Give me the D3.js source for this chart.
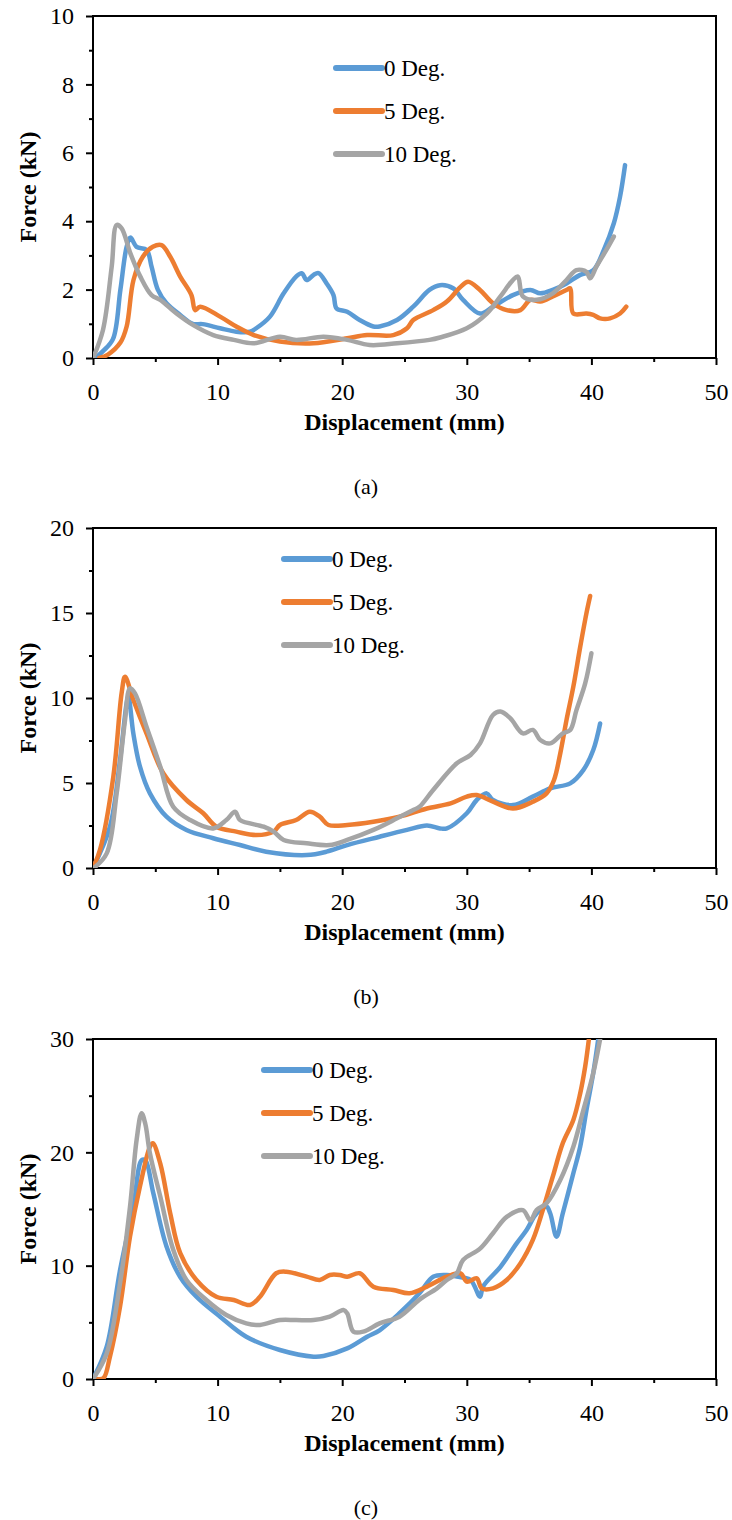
<!DOCTYPE html>
<html>
<head>
<meta charset="utf-8">
<script src="https://cdn.jsdelivr.net/npm/d3@7"></script>
<style>
  body { margin: 0; background: #fff; }
  svg { display: block; font-family: "Liberation Serif", "Times New Roman", serif; }
  .axis path, .axis line { stroke: #000; stroke-width: 2; }
  .axis text { font-size: 24px; fill: #000; font-family: "Liberation Serif", "Times New Roman", serif; }
  .curve { fill: none; stroke-width: 4.5; stroke-linejoin: round; stroke-linecap: round; }
</style>
</head>
<body>
<svg id="chart" width="732" height="1520"></svg>
<script>
// series names and colours (Excel defaults)
var seriesNames = ["0 Deg.", "5 Deg.", "10 Deg."];
var seriesColors = ["#5B9BD5", "#ED7D31", "#A5A5A5"];

var xTicks = [0, 10, 20, 30, 40, 50];
var xMinorTicks = [5, 15, 25, 35, 45];

var yTicksA = [0, 2, 4, 6, 8, 10];
var yMinorA = [1, 3, 5, 7, 9];
var yTicksB = [0, 5, 10, 15, 20];
var yMinorB = [2.5, 7.5, 12.5, 17.5];
var yTicksC = [0, 10, 20, 30];
var yMinorC = [5, 15, 25];

// panel (a)  [displacement mm, force kN]
var aDeg0 = [[0.2,0],[0.8,0.2],[1.6,0.55],[2.2,2.0],[2.7,3.25],[3.0,3.52],[3.5,3.25],[4.3,3.16],[4.7,2.67],[5.2,2.0],[5.9,1.6],[7.0,1.26],[8.0,1.0],[8.8,0.99],[10.2,0.87],[11.5,0.77],[12.6,0.77],[13.1,0.87],[14.2,1.21],[15.3,1.89],[16.3,2.38],[16.75,2.48],[17.15,2.28],[17.7,2.43],[18.1,2.48],[18.75,2.18],[19.3,1.84],[19.55,1.45],[20.4,1.35],[21.4,1.11],[22.5,0.92],[23.0,0.92],[24.4,1.11],[25.7,1.5],[27.0,1.99],[27.85,2.13],[28.9,2.04],[29.7,1.7],[31.06,1.3],[32.1,1.5],[33.7,1.84],[35.1,1.99],[35.9,1.89],[36.9,1.99],[38.0,2.18],[39.1,2.43],[40.15,2.57],[41.0,3.16],[41.8,3.94],[42.3,4.72],[42.7,5.64]];
var aDeg5 = [[0.5,0],[1.2,0.1],[2.2,0.45],[2.7,0.92],[3.25,2.28],[4.0,2.96],[4.8,3.25],[5.5,3.3],[6.2,2.96],[7.0,2.38],[7.9,1.84],[8.2,1.4],[8.6,1.5],[10.2,1.21],[11.5,0.92],[12.9,0.67],[15.0,0.48],[17.7,0.43],[20.4,0.58],[22.0,0.67],[24.1,0.67],[25.2,0.87],[25.7,1.11],[27.3,1.4],[28.4,1.65],[29.5,2.08],[30.1,2.23],[31.06,1.99],[32.1,1.6],[33.2,1.4],[34.3,1.4],[35.1,1.7],[35.9,1.65],[36.9,1.8],[38.0,1.99],[38.3,2.04],[38.55,1.3],[39.6,1.3],[40.15,1.26],[40.7,1.16],[41.5,1.16],[42.3,1.3],[42.8,1.5]];
var aDeg10 = [[0,0],[0.8,0.82],[1.5,2.67],[1.9,3.89],[2.3,3.79],[3.0,3.06],[3.8,2.38],[4.7,1.84],[5.4,1.7],[6.7,1.3],[8.05,0.96],[9.65,0.67],[11.3,0.53],[12.9,0.43],[15.0,0.62],[16.3,0.53],[18.5,0.62],[20.4,0.53],[22.2,0.38],[24.4,0.43],[27.0,0.53],[27.85,0.6],[30.0,0.87],[31.6,1.3],[32.7,1.8],[33.7,2.28],[34.1,2.38],[34.5,1.8],[35.6,1.7],[36.9,1.89],[38.0,2.28],[38.8,2.57],[39.6,2.52],[39.9,2.33],[40.4,2.67],[41.2,3.16],[41.8,3.55]];

// panel (b)
var bDeg0 = [[0,0],[1.36,2.43],[2.17,6.35],[2.7,9.7],[2.84,10.08],[3.24,7.9],[3.77,5.96],[4.57,4.39],[5.9,3.02],[7.5,2.24],[9.65,1.75],[11.8,1.35],[13.9,0.96],[17.15,0.76],[18.75,0.96],[20.4,1.35],[23.0,1.84],[25.2,2.24],[26.8,2.5],[27.85,2.33],[28.4,2.33],[30.0,3.22],[30.8,4.0],[31.6,4.39],[32.1,4.0],[33.7,3.7],[35.3,4.2],[36.7,4.69],[38.3,4.98],[39.35,5.76],[40.15,6.94],[40.7,8.5]];
var bDeg5 = [[0,0],[0.56,1.06],[1.63,5.37],[2.3,10.3],[2.57,11.25],[3.24,9.88],[4.3,7.9],[5.64,5.57],[7.5,4.0],[8.85,3.22],[9.9,2.43],[11.5,2.14],[13.1,1.94],[14.5,2.14],[15.0,2.53],[16.3,2.82],[17.4,3.31],[18.2,3.02],[18.9,2.53],[20.4,2.53],[22.5,2.72],[24.6,3.02],[26.8,3.5],[28.7,3.8],[30.0,4.2],[30.8,4.29],[32.1,3.9],[33.7,3.5],[35.3,3.9],[36.4,4.39],[37.0,5.18],[37.5,6.74],[38.0,8.7],[38.55,10.67],[39.1,13.0],[39.6,14.98],[39.9,16.0]];
var bDeg10 = [[0.06,0],[1.1,0.86],[1.9,4.39],[2.57,8.7],[2.97,10.57],[3.37,10.27],[4.3,8.3],[5.4,5.96],[6.44,3.6],[7.8,2.82],[9.65,2.33],[10.7,2.82],[11.4,3.31],[11.8,2.82],[13.7,2.43],[14.5,2.14],[15.3,1.65],[17.15,1.45],[19.0,1.35],[20.4,1.65],[22.5,2.24],[24.4,2.92],[25.7,3.41],[26.2,3.6],[27.3,4.59],[29.2,6.16],[30.3,6.65],[31.06,7.33],[32.1,9.0],[32.7,9.2],[33.5,8.8],[34.5,7.92],[35.3,8.12],[35.9,7.53],[36.7,7.33],[37.7,7.92],[38.3,8.12],[38.8,9.29],[39.5,10.86],[40.0,12.63]];

// panel (c)
var cDeg0 = [[0,0],[1.1,2.85],[2.17,9.6],[3.24,15.2],[3.9,19.3],[4.2,19.3],[4.84,16.4],[5.9,11.7],[7.0,9.0],[8.3,7.26],[10.2,5.5],[12.3,3.73],[15.0,2.56],[17.7,1.97],[18.5,2.03],[20.4,2.7],[22.0,3.73],[23.0,4.3],[24.6,5.8],[26.2,7.56],[27.3,9.03],[28.4,9.18],[29.2,9.03],[30.3,8.74],[31.06,7.26],[31.3,8.15],[32.7,9.9],[34.0,11.97],[34.8,13.15],[35.6,14.6],[36.4,15.2],[36.7,14.6],[37.2,12.56],[37.7,14.6],[38.55,18.15],[39.1,20.5],[39.6,23.7],[40.15,27.0],[40.55,30]];
var cDeg5 = [[0.3,0],[0.83,0.06],[1.36,1.97],[2.17,6.38],[2.97,12.56],[3.77,17.0],[4.57,20.5],[4.8,20.8],[5.4,19.0],[6.2,14.6],[7.0,11.1],[8.3,8.74],[9.9,7.26],[11.3,6.97],[12.6,6.53],[13.4,7.26],[14.7,9.33],[15.5,9.47],[17.15,9.03],[18.2,8.74],[19.0,9.18],[19.8,9.18],[20.4,9.03],[21.4,9.33],[22.5,8.15],[24.1,7.86],[25.4,7.56],[26.8,8.15],[28.4,9.03],[29.5,9.33],[30.0,8.59],[30.8,8.88],[31.2,8.0],[32.1,8.0],[33.2,8.74],[34.3,10.2],[35.3,12.27],[36.1,14.9],[36.9,17.85],[37.7,20.8],[38.55,22.86],[39.1,25.2],[39.5,27.56],[39.8,30]];
var cDeg10 = [[0,0],[1.1,2.26],[2.17,8.45],[2.97,15.2],[3.5,21.1],[3.9,23.45],[4.2,22.5],[4.57,19.9],[5.4,16.1],[6.44,11.4],[7.5,8.74],[9.1,6.97],[10.7,5.65],[12.3,4.91],[13.4,4.77],[15.0,5.2],[16.3,5.2],[17.7,5.2],[19.0,5.5],[20.1,6.09],[20.4,5.8],[20.9,4.18],[21.7,4.18],[23.0,4.91],[24.6,5.5],[26.2,7.0],[27.6,8.0],[28.4,8.74],[29.2,9.33],[29.7,10.5],[31.06,11.5],[32.1,12.86],[33.2,14.3],[34.5,14.9],[35.1,14.0],[35.6,14.9],[36.4,15.5],[37.5,17.56],[38.55,20.5],[39.35,23.7],[40.15,27.0],[40.7,30]];

var LEFT = 93, RIGHT = 716;

var panels = [
  { label: "(a)", top: 16,   bottom: 358,  yMax: 10, yTicks: yTicksA, yMinor: yMinorA, series: [aDeg0, aDeg5, aDeg10], legendX: 336, legendY: 68 },
  { label: "(b)", top: 528,  bottom: 868,  yMax: 20, yTicks: yTicksB, yMinor: yMinorB, series: [bDeg0, bDeg5, bDeg10], legendX: 284, legendY: 559 },
  { label: "(c)", top: 1039, bottom: 1379, yMax: 30, yTicks: yTicksC, yMinor: yMinorC, series: [cDeg0, cDeg5, cDeg10], legendX: 264, legendY: 1070 }
];

var svg = d3.select("#chart");
svg.append("rect").attr("width", 732).attr("height", 1520).attr("fill", "#fff");

var x = d3.scaleLinear().domain([0, 50]).range([LEFT, RIGHT]);

panels.forEach(function (p, pi) {
  var y = d3.scaleLinear().domain([0, p.yMax]).range([p.bottom, p.top]);
  var g = svg.append("g");

  var clipId = "clip" + pi;
  svg.append("clipPath").attr("id", clipId)
    .append("rect").attr("x", LEFT).attr("y", p.top).attr("width", RIGHT - LEFT).attr("height", p.bottom - p.top);

  // minor ticks
  g.append("g").attr("class", "axis").attr("transform", "translate(0," + p.bottom + ")")
    .call(d3.axisBottom(x).tickValues(xMinorTicks).tickSize(4).tickFormat(""))
    .select(".domain").remove();
  g.append("g").attr("class", "axis").attr("transform", "translate(" + LEFT + ",0)")
    .call(d3.axisLeft(y).tickValues(p.yMinor).tickSize(4).tickFormat(""))
    .select(".domain").remove();

  // major ticks + labels
  var xa = g.append("g").attr("class", "axis").attr("transform", "translate(0," + p.bottom + ")")
    .call(d3.axisBottom(x).tickValues(xTicks).tickSize(7).tickSizeOuter(0).tickPadding(18));
  xa.select(".domain").remove();
  var ya = g.append("g").attr("class", "axis").attr("transform", "translate(" + LEFT + ",0)")
    .call(d3.axisLeft(y).tickValues(p.yTicks).tickSize(7).tickSizeOuter(0).tickPadding(12));
  ya.select(".domain").remove();

  // plot frame
  g.append("rect").attr("x", LEFT).attr("y", p.top).attr("width", RIGHT - LEFT).attr("height", p.bottom - p.top)
    .attr("fill", "none").attr("stroke", "#000").attr("stroke-width", 2);

  // curves
  var line = d3.line().curve(d3.curveCatmullRom.alpha(0.5))
    .x(function (d) { return x(d[0]); }).y(function (d) { return y(d[1]); });
  p.series.forEach(function (s, i) {
    g.append("path").datum(s).attr("class", "curve").attr("clip-path", "url(#" + clipId + ")")
      .attr("stroke", seriesColors[i]).attr("d", line);
  });

  // legend
  seriesNames.forEach(function (name, i) {
    var ly = p.legendY + i * 43;
    g.append("line").attr("x1", p.legendX).attr("x2", p.legendX + 46).attr("y1", ly).attr("y2", ly)
      .attr("stroke", seriesColors[i]).attr("stroke-width", 6).attr("stroke-linecap", "round");
    g.append("text").attr("x", p.legendX + 48).attr("y", ly).attr("dy", "0.35em")
      .attr("font-size", 23).text(name);
  });

  // axis titles
  g.append("text").attr("x", (LEFT + RIGHT) / 2).attr("y", p.bottom + 72)
    .attr("text-anchor", "middle").attr("font-size", 24).attr("font-weight", "bold")
    .text("Displacement (mm)");
  g.append("text")
    .attr("transform", "translate(36," + ((p.top + p.bottom) / 2) + ") rotate(-90)")
    .attr("text-anchor", "middle").attr("font-size", 24).attr("font-weight", "bold")
    .text("Force (kN)");

  // panel label
  g.append("text").attr("x", 366).attr("y", p.bottom + 136)
    .attr("text-anchor", "middle").attr("font-size", 22).text(p.label);
});
</script>
</body>
</html>
